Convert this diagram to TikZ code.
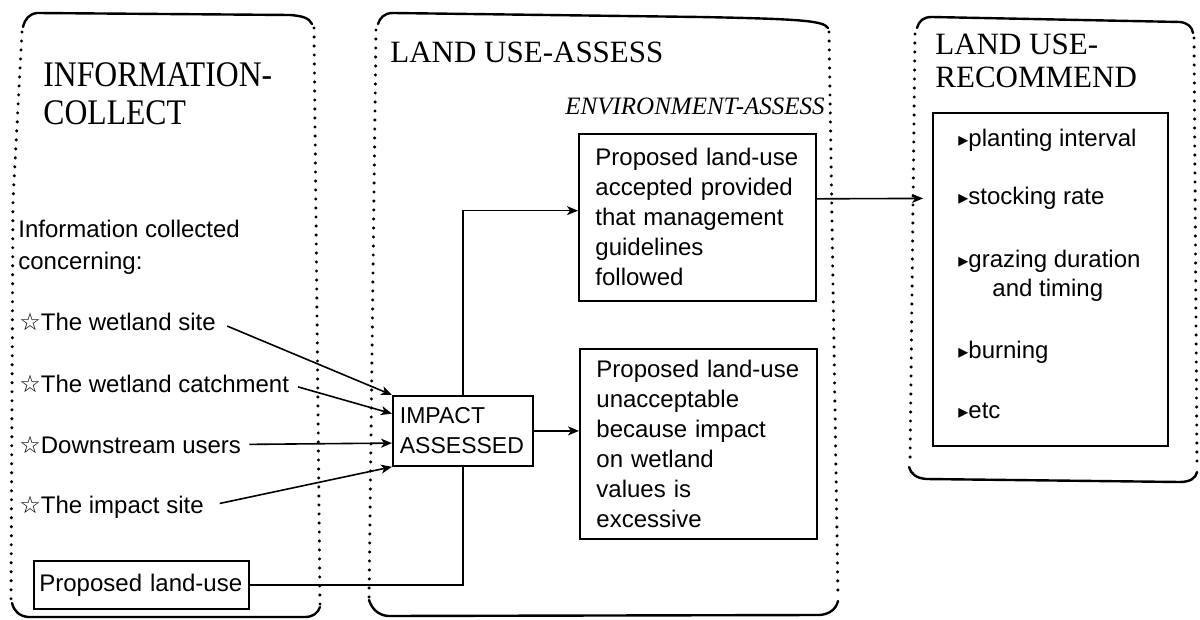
\documentclass[tikz,border=0pt]{standalone}
\usepackage{fontspec}
\usepackage{graphicx}
\setmainfont{Liberation Serif}
\newfontfamily\sansf{Liberation Sans}
\newfontfamily\symf{DejaVu Sans}
\usetikzlibrary{arrows.meta,calc}
\newcommand{\hollowstar}{{\symf\fontsize{12}{12}\selectfont ☆}}
\newcommand{\itemtri}{{\symf\fontsize{10}{10}\selectfont ▸}}

\begin{document}
\begin{tikzpicture}[x=0.5pt,y=-0.5pt,
  panelline/.style={line width=1.2pt, line cap=round, line join=round},
  dotside/.style={line width=1.7pt, line cap=round, dash pattern=on 0pt off 4.5pt},
  heading/.style={font=\fontsize{15.5}{17}\selectfont, anchor=base west, inner sep=0pt},
  body/.style={font=\sansf\fontsize{12}{15}\selectfont, anchor=base west, inner sep=0pt},
  txtbox/.style={draw, line width=0.9pt, font=\sansf\fontsize{12}{15}\selectfont,
                 align=left, anchor=north west, inner ysep=0pt},
  wire/.style={line width=0.8pt},
  conn/.style={wire, -{Stealth[length=5.5pt,width=4.5pt,inset=1.5pt]}},
]
\useasboundingbox (0,0) rectangle (1200,620);
\fill[white] (0,0) rectangle (1200,620);

% ---- panel: information collection ----
\draw[panelline] (23,27) .. controls (25,19) and (29,14) .. (37,13) -- (290,15)
  .. controls (303,16) and (309,18) .. (312,24);
\draw[dotside] (22,32) -- (13,200) -- (11,600);
\draw[dotside] (314,28) -- (320,604);
\draw[panelline] (12,603) .. controls (14,611) and (19,616) .. (28,617) -- (305,617)
  .. controls (313,617) and (318,613) .. (320,607);

% ---- panel: land use assessment ----
\draw[panelline] (378,24) .. controls (380,18) and (384,13) .. (393,13) -- (700,17)
  .. controls (805,19) and (823,21) .. (828,28);
\draw[dotside] (376,30) -- (369,600);
\draw[dotside] (829,32) -- (838,598);
\draw[panelline] (369,600) .. controls (372,609) and (378,615) .. (388,616) -- (820,615)
  .. controls (830,614) and (836,609) .. (838,601);

% ---- panel: land use recommendation ----
\draw[panelline] (917,28) .. controls (919,21) and (923,17) .. (932,17) -- (1180,22)
  .. controls (1188,23) and (1192,27) .. (1193,33);
\draw[dotside] (915,34) -- (910,465);
\draw[dotside] (1194,38) -- (1197,468);
\draw[panelline] (909,467) .. controls (911,474) and (916,478) .. (926,479) -- (1180,482)
  .. controls (1190,482) and (1196,478) .. (1197,472);

% ---- headings ----
\node[heading, font=\fontsize{18}{18}\selectfont] (infoA) at (43,87) {\scalebox{0.88}[1]{INFORMATION-}};
\node[heading, font=\fontsize{18}{18}\selectfont] (infoB) at (43,125) {\scalebox{0.88}[1]{COLLECT}};
\node[heading] (assess) at (390,63) {LAND USE-ASSESS};
\node[heading, font=\itshape\fontsize{12.5}{14}\selectfont, anchor=base east] (envir) at (825,115) {ENVIRONMENT-ASSESS};
\node[heading] (recA) at (935,55) {LAND USE-};
\node[heading] (recB) at (935,88) {RECOMMEND};

% ---- information collected ----
\node[body] (info1) at (18,238) {Information collected};
\node[body] (info2) at (18,270) {concerning:};
\node[body] (s1) at (19,330) {\hollowstar The wetland site};
\node[body] (s2) at (19,393) {\hollowstar The wetland catchment};
\node[body] (s3) at (19,453) {\hollowstar Downstream users};
\node[body] (s4) at (19,513) {\hollowstar The impact site};
\node[txtbox, text width=102pt, inner xsep=2.75pt, minimum height=24pt] (pland) at (33,560)
  {\mbox{Proposed land-use}};

% ---- assessment boxes ----
\node[txtbox, font=\sansf\fontsize{11.5}{15}\selectfont, text width=63pt, inner xsep=3.5pt,
      minimum height=35pt] (imp) at (392,395) {IMPACT\\ASSESSED};
\node[txtbox, text width=102pt, inner xsep=8.25pt, minimum height=83.5pt] (acc) at (578,133)
  {Proposed land-use\\accepted provided\\that management\\guidelines\\followed};
\node[txtbox, text width=102pt, inner xsep=8.25pt, minimum height=95pt] (unacc) at (579,348)
  {Proposed land-use\\unacceptable\\because impact\\on wetland\\values is\\excessive};

% ---- recommendations ----
\node[draw, line width=0.9pt, minimum width=117.5pt, minimum height=166.5pt,
      anchor=north west, inner sep=0pt] (rec) at (932,112) {};
\node[body] (r1) at (958,147) {\itemtri planting interval};
\node[body] (r2) at (958,205) {\itemtri stocking rate};
\node[body] (r3) at (958,268) {\itemtri grazing duration};
\node[body] (r3b) at (992,297) {and timing};
\node[body] (r4) at (958,358) {\itemtri burning};
\node[body] (r5) at (958,418) {\itemtri etc};

% ---- connectors ----
\draw[conn, shorten <=6pt] (s1.east) -- ($(imp.north west)!0.0!(imp.south west)$);
\draw[conn, shorten <=4.5pt] (s2.east) -- ($(imp.north west)!0.26!(imp.south west)$);
\draw[conn, shorten <=4pt] (s3.east) -- ($(imp.north west)!0.67!(imp.south west)$);
\draw[conn, shorten <=8pt] (s4.east) -- ($(imp.north west)!1.0!(imp.south west)$);
\draw[wire] (pland.east) -| (imp.south);
\draw[conn] (imp.north) |- ($(acc.north west)!0.46!(acc.south west)$);
\draw[conn] (imp.east) -- (imp.east -| unacc.west);
\draw[conn, shorten >=4.5pt] ($(acc.north east)!0.39!(acc.south east)$)
  -- ($(rec.north west)!0.258!(rec.south west)$);
\end{tikzpicture}
\end{document}
